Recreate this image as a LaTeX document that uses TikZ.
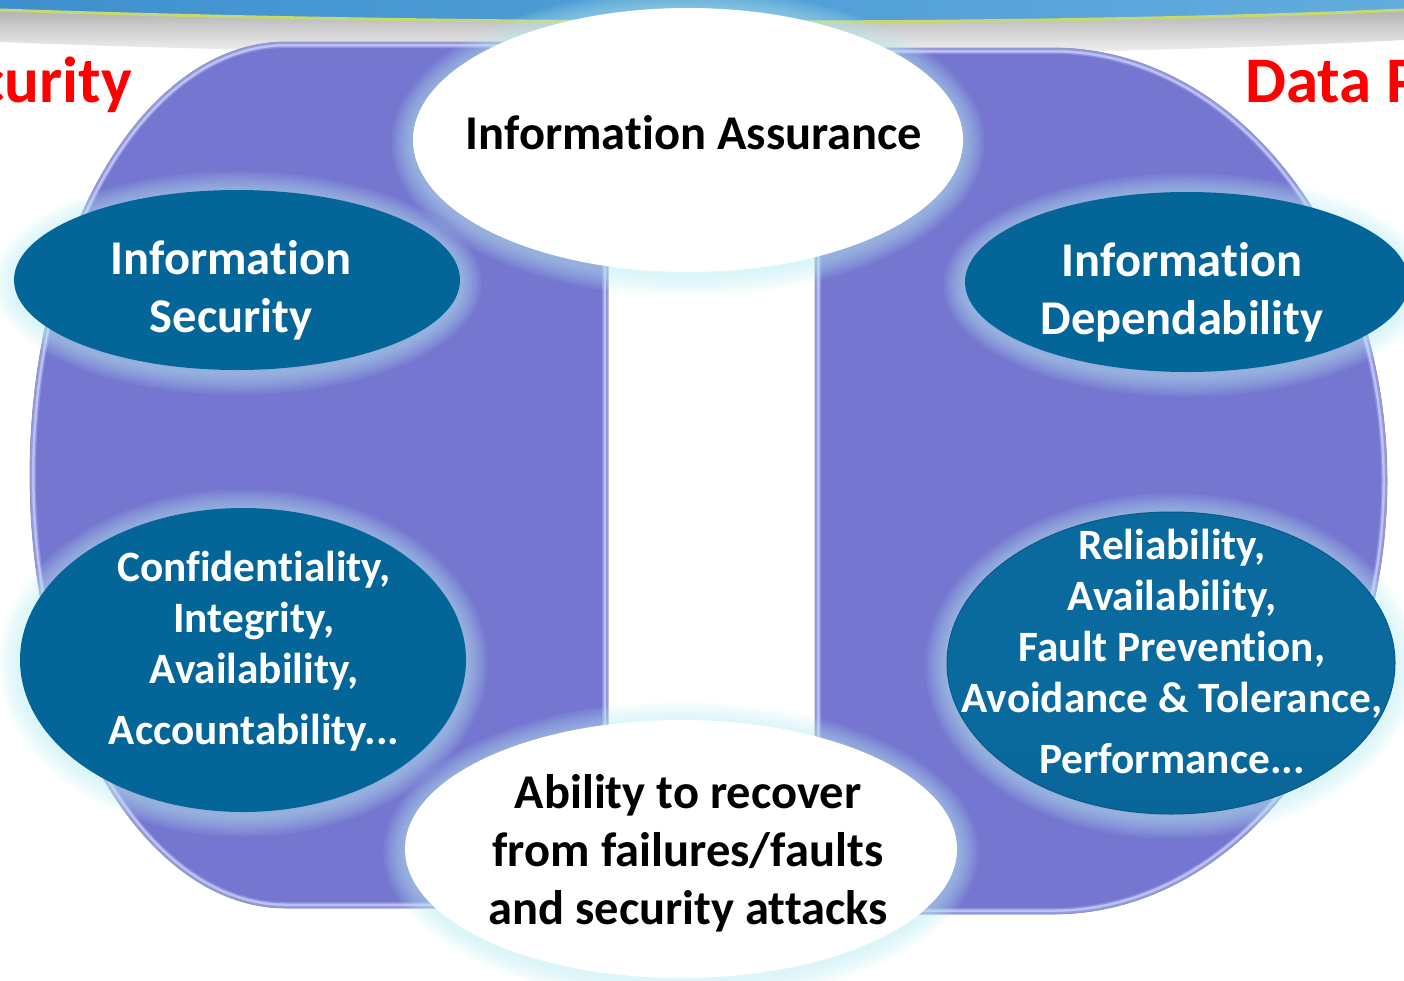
\documentclass[tikz,border=0pt]{standalone}
\usepackage{fontspec}
\setmainfont{Carlito}[Ligatures=NoCommon]
\usetikzlibrary{shapes.geometric}

\definecolor{bandblue}{RGB}{62,144,206}
\definecolor{bandblueR}{RGB}{98,172,222}
\definecolor{bandline}{RGB}{200,216,112}
\definecolor{lav}{RGB}{116,118,208}
\definecolor{lavmix}{RGB}{140,144,222}
\definecolor{lavrim}{RGB}{150,154,228}
\definecolor{lavhi}{RGB}{188,194,246}
\definecolor{lavout}{RGB}{150,150,178}
\definecolor{ovalblue}{RGB}{4,101,153}
\definecolor{glowc}{RGB}{186,236,242}
\definecolor{relTop}{RGB}{60,170,226}
\definecolor{relMid}{RGB}{10,106,158}
\definecolor{relBot}{RGB}{5,94,142}

\pgfdeclareverticalshading{relshade}{100bp}{color(0bp)=(relBot); color(40bp)=(relMid); color(82bp)=(relMid); color(96bp)=(relTop); color(100bp)=(relTop)}

% soft halo behind an oval: centre x, centre y, x radius, y radius
\newcommand\ovalhalo[4]{%
  \foreach \k in {1,...,9}{%
    \fill[glowc, opacity=0.08] (#1,#2+3) ellipse [x radius={#3+2.4*\k}, y radius={#4+2.4*\k}];}}

% outlines of the two panels
\def\leftpanel{(608,42) -- (286,42) arc[start angle=-90, end angle=-270, x radius=256, y radius=433] -- (608,908) -- cycle}
\def\rightpanel{(815,48) -- (1053,48) arc[start angle=-90, end angle=90, x radius=334, y radius=433] -- (815,914) -- cycle}

\begin{document}
\begin{tikzpicture}[x=1pt,y=-1pt,
  oval/.style={ellipse, inner sep=0pt, fill=ovalblue},
  whiteoval/.style={ellipse, inner sep=0pt, fill=white},
  lbl/.style={text=white, align=center, inner sep=0pt, font=\bfseries\fontsize{48.5}{58}\selectfont},
  lblsmall/.style={text=white, align=center, inner sep=0pt, font=\bfseries\fontsize{43.3}{51}\selectfont},
  darklbl/.style={text=black, align=center, inner sep=0pt, font=\bfseries\fontsize{48.5}{58}\selectfont},
  redtitle/.style={text=red, inner sep=0pt, font=\bfseries\fontsize{65}{70}\selectfont}
]
\useasboundingbox (0,0) rectangle (1404,980);
\clip (0,0) rectangle (1404,980);

% header band with its shadow and accent line
\shade[top color=black!30, bottom color=white]
  (0,10) .. controls (400,24) and (1000,28) .. (1404,10) -- (1404,40)
  .. controls (1000,62) and (400,58) .. (0,42) -- cycle;
\shade[left color=bandblue, right color=bandblueR]
  (0,0) -- (1404,0) -- (1404,10) .. controls (1000,28) and (400,24) .. (0,10) -- cycle;
\draw[bandline, line width=3] (0,10) .. controls (400,24) and (1000,28) .. (1404,10);

% red headings running off the page
\node[redtitle, anchor=base east] (secT) at (132,102) {Security};
\node[redtitle, anchor=base west] (dataT) at (1245,102) {Data P};

% the two purple panels
\fill[lav] \leftpanel;
\fill[lav] \rightpanel;
\begin{scope}
  \clip \leftpanel;
  \draw[lavmix, line width=12] \leftpanel;
  \draw[lavhi, line width=9] \leftpanel;
  \draw[lavrim, line width=4] \leftpanel;
\end{scope}
\begin{scope}
  \clip \rightpanel;
  \draw[lavmix, line width=12] \rightpanel;
  \draw[lavhi, line width=9] \rightpanel;
  \draw[lavrim, line width=4] \rightpanel;
\end{scope}
\draw[lavout, line width=0.8] \leftpanel;
\draw[lavout, line width=0.8] \rightpanel;

% white ovals
\ovalhalo{688}{140}{275}{132}
\node[whiteoval, minimum width=550, minimum height=264] (ia) at (688,140) {};
\ovalhalo{681}{849}{276}{129}
\node[whiteoval, minimum width=552, minimum height=258] (rec) at (681,849) {};

% blue ovals
\ovalhalo{237}{280}{223}{90}
\node[oval, minimum width=446, minimum height=180] (is) at (237,280) {};
\ovalhalo{1187}{282}{222}{90}
\node[oval, minimum width=444, minimum height=180] (id) at (1187,282) {};
\ovalhalo{243}{660}{223}{152}
\node[oval, minimum width=446, minimum height=304] (cia) at (243,660) {};
\ovalhalo{1171}{663}{224}{151}
\node[ellipse, inner sep=0pt, shading=relshade, draw={rgb,255:red,8;green,90;blue,136}, line width=1,
      minimum width=448, minimum height=302] (rel) at (1171,663) {};

% labels
\node[darklbl] (iaT) at (694,133) {Information Assurance};
\node[lbl] (isT) at (231,290) {Information\\Security};
\node[lbl] (idT) at (1182,292) {Information\\Dependability};
\node[lblsmall] (ciaT) at (254,651) {Confidentiality,\\Integrity,\\Availability,\\[10pt]Accountability...};
\node[lblsmall] (relT) at (1172,651) {Reliability,\\Availability,\\Fault Prevention,\\Avoidance \& Tolerance,\\[10pt]Performance...};
\node[darklbl] (recT) at (688,853) {Ability to recover\\from failures/faults\\and security attacks};
\end{tikzpicture}
\end{document}
